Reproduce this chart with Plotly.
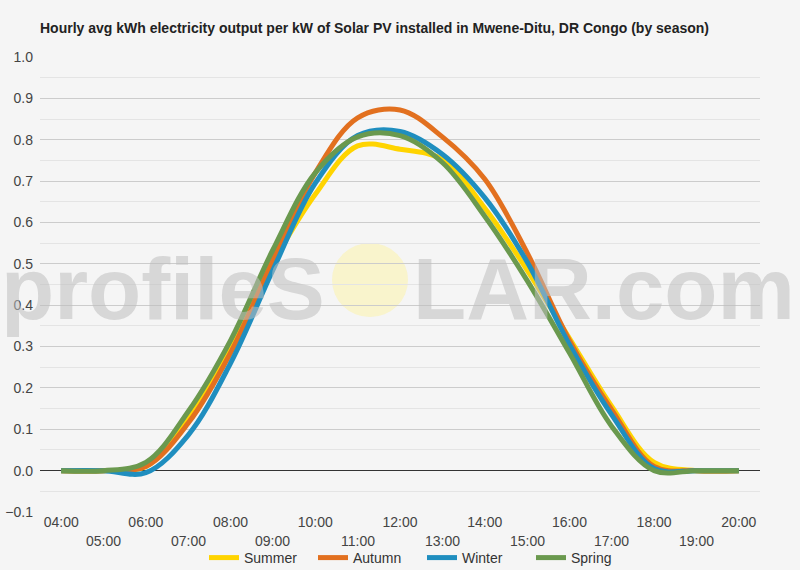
import plotly.graph_objects as go

hours = ["04:00", "05:00", "06:00", "07:00", "08:00", "09:00", "10:00", "11:00", "12:00",
         "13:00", "14:00", "15:00", "16:00", "17:00", "18:00", "19:00", "20:00"]
summer = [0, 0, 0.01, 0.125, 0.30, 0.502, 0.668, 0.785, 0.777, 0.752, 0.635, 0.485, 0.32, 0.155, 0.02, 0, 0]
autumn = [0, 0, 0.01, 0.115, 0.285, 0.51, 0.72, 0.853, 0.872, 0.807, 0.705, 0.527, 0.315, 0.147, 0.01, 0, 0]
winter = [0, 0, -0.005, 0.086, 0.26, 0.485, 0.695, 0.81, 0.82, 0.765, 0.66, 0.505, 0.305, 0.135, 0.005, 0, 0]
spring = [0, 0, 0.02, 0.143, 0.315, 0.534, 0.72, 0.807, 0.81, 0.745, 0.615, 0.46, 0.285, 0.107, 0, 0, 0]

series = [("Summer", summer, "#FFD400"), ("Autumn", autumn, "#E2701F"),
          ("Winter", winter, "#1F8EBF"), ("Spring", spring, "#6A994E")]

FONT = "Arial, Liberation Sans, sans-serif"
BG = "#f5f5f5"
L, R, T, B = 40, 40, 57, 58
PW, PH = 800 - L - R, 570 - T - B


def px(x):
    return (x - L) / PW


def py(y):
    return (570 - B - y) / PH


fig = go.Figure()
for name, vals, col in series:
    fig.add_trace(go.Scatter(x=hours, y=vals, name=name, mode="lines",
                             line=dict(color=col, width=5, shape="spline", smoothing=1.0),
                             hoverinfo="x+y+name"))

even = hours[0::2]
odd = hours[1::2]

fig.update_layout(
    width=800, height=570,
    paper_bgcolor=BG, plot_bgcolor=BG,
    margin=dict(l=L, r=R, t=T, b=B, autoexpand=False),
    title=dict(text="<b>Hourly avg kWh electricity output per kW of Solar PV installed in Mwene-Ditu, DR Congo (by season)</b>",
               x=0, xref="paper", xanchor="left", y=1 - 28 / 570, yanchor="middle",
               font=dict(family=FONT, size=14, color="#222222")),
    font=dict(family=FONT, size=14, color="#444444"),
    showlegend=True,
    legend=dict(orientation="h", x=px(204), xanchor="left", y=py(558), yanchor="middle",
                font=dict(family=FONT, size=14, color="#333333"), bgcolor="rgba(0,0,0,0)",
                itemwidth=30, entrywidth=64, entrywidthmode="pixels"),
    xaxis=dict(type="category", range=[-0.5, 16.5], showgrid=False, zeroline=False,
               showline=False, tickmode="array", tickvals=even, ticktext=even,
               ticks="", tickfont=dict(size=14, color="#444444"), fixedrange=True),
    yaxis=dict(range=[-0.1, 1.0], dtick=0.1, tick0=0, tickformat=".1f",
               showgrid=True, gridcolor="#cccccc", gridwidth=1,
               zeroline=True, zerolinecolor="#333333", zerolinewidth=1.3,
               minor=dict(dtick=0.05, showgrid=True, gridcolor="#e4e4e4", gridwidth=1),
               tickfont=dict(size=14, color="#444444"), ticks="", ticklabelstandoff=6,
               fixedrange=True),
)

for h in odd:
    fig.add_annotation(x=h, xref="x", y=py(541), yref="paper", text=h, showarrow=False,
                       yanchor="middle", xanchor="center",
                       font=dict(family=FONT, size=14, color="#444444"))

# watermark
fig.add_shape(type="circle", xref="paper", yref="paper",
              x0=px(332), x1=px(408), y0=py(317), y1=py(243),
              line=dict(width=0), fillcolor="rgba(250,243,190,0.75)", layer="below")
fig.add_annotation(x=px(327), xref="paper", y=py(288), yref="paper",
                   text="<b>profileS</b>", showarrow=False, xanchor="right", yanchor="middle",
                   font=dict(family=FONT, size=87, color="rgba(190,190,190,0.55)"))
fig.add_annotation(x=px(411), xref="paper", y=py(288), yref="paper",
                   text="<b>LAR.com</b>", showarrow=False, xanchor="left", yanchor="middle",
                   font=dict(family=FONT, size=87, color="rgba(190,190,190,0.55)"))

fig.write_html("out.html")
